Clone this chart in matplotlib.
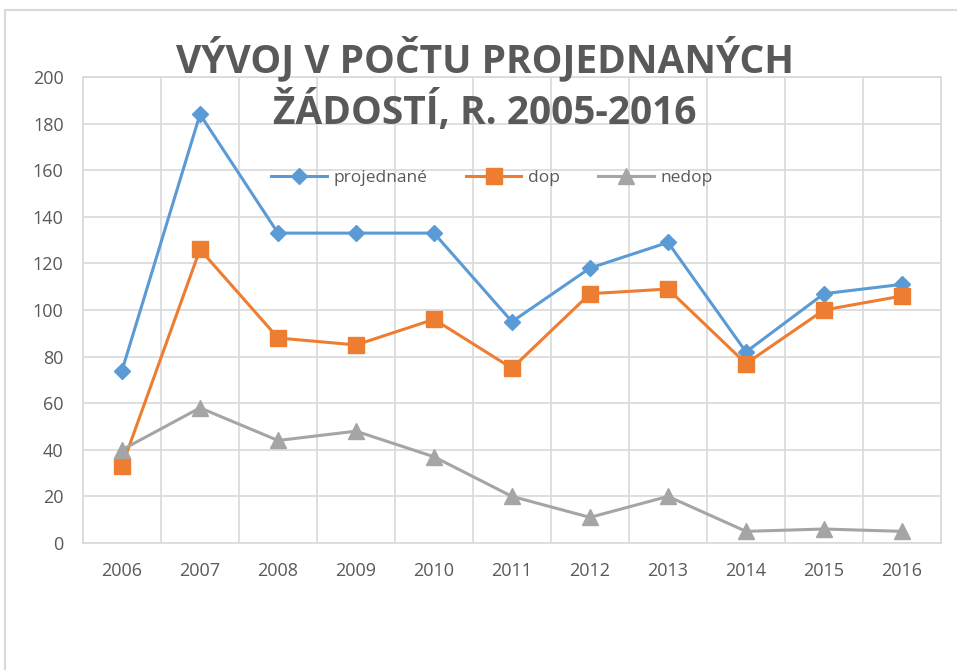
import matplotlib
matplotlib.use('Agg')
import matplotlib.pyplot as plt
from matplotlib.patches import Rectangle
import numpy as np

# data
years = ['2006', '2007', '2008', '2009', '2010', '2011', '2012', '2013', '2014', '2015', '2016']
projednane = [74, 184, 133, 133, 133, 95, 118, 129, 82, 107, 111]
dop = [33, 126, 88, 85, 96, 75, 107, 109, 77, 100, 106]
nedop = [40, 58, 44, 48, 37, 20, 11, 20, 5, 6, 5]

txt = '#595959'
grid = '#d9d9d9'

plt.rcParams['font.family'] = ['Open Sans', 'DejaVu Sans']

fig = plt.figure(figsize=(9.57, 6.70), dpi=100)
# light frame of the chart area
fig.patches.append(Rectangle((5 / 957, -0.01), 1.0, 1 - 10 / 670 + 0.01,
                             transform=fig.transFigure, fill=False,
                             edgecolor=grid, linewidth=1.5))

ax = fig.add_axes([83 / 957, 1 - 543 / 670, 858 / 957, 466 / 670])
x = np.arange(len(years))

ax.plot(x, projednane, color='#5b9bd5', lw=2.2, marker='D', ms=8, label='projednané', zorder=3)
ax.plot(x, dop, color='#ed7d31', lw=2.2, marker='s', ms=12, label='dop', zorder=3)
ax.plot(x, nedop, color='#a5a5a5', lw=2.2, marker='^', ms=11, label='nedop', zorder=3)

ax.set_xlim(-0.5, len(years) - 0.5)
ax.set_ylim(0, 200)
ax.set_yticks(range(0, 201, 20))
ax.set_xticks(x)
ax.set_xticklabels(years)
ax.set_xticks(np.arange(-0.5, len(years), 1), minor=True)
ax.grid(True, axis='y', which='major', color=grid, lw=1.2)
ax.grid(True, axis='x', which='minor', color=grid, lw=1.2)
ax.tick_params(which='both', length=0, colors=txt, labelsize=13)
ax.tick_params(axis='y', pad=14)
ax.tick_params(axis='x', pad=14)
for s in ax.spines.values():
    s.set_color(grid)
    s.set_linewidth(1.2)
ax.set_axisbelow(True)

leg = ax.legend(loc='center', bbox_to_anchor=(0.477, 0.783), ncol=3, frameon=False,
                fontsize=12.5, handlelength=3.2, columnspacing=2.2, handletextpad=0.4)
for t in leg.get_texts():
    t.set_color(txt)

fig.text(0.507, 0.874, 'VÝVOJ V POČTU PROJEDNANÝCH\nŽÁDOSTÍ, R. 2005-2016',
         ha='center', va='center', fontsize=28, fontweight='bold', color=txt,
         linespacing=1.3)

fig.savefig('out.png', dpi=100)
